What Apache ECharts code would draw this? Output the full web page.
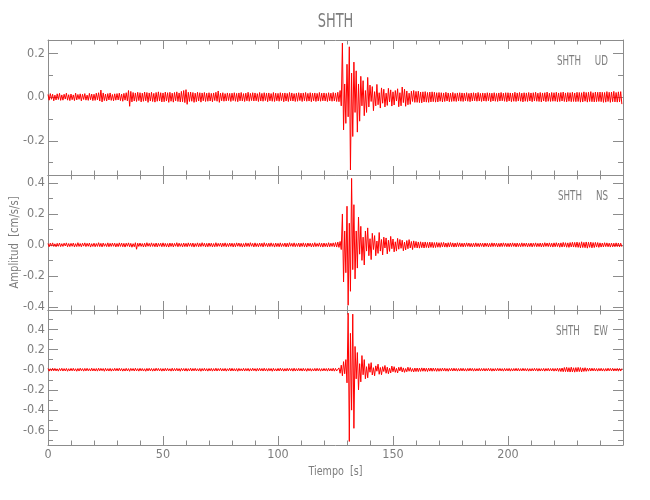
<!DOCTYPE html>
<html><head><meta charset="utf-8">
<script src="https://cdn.jsdelivr.net/npm/echarts@6/dist/echarts.min.js"></script>
<style>html,body{margin:0;padding:0;background:#fff}#c{width:650px;height:500px}</style>
</head><body><div id="c"></div>
<script>
// ---- text ----
const chartTitle = 'SHTH';
const station = 'SHTH';
const components = ['UD', 'NS', 'EW'];
const yName = 'Amplitud  [cm/s/s]';
const xName = 'Tiempo  [s]';

// ---- samples (one every 0.5 s, in units of 0.001 cm/s/s) ----
const sampleStep = 0.5;
const udMilli = [
12,-14,16,-10,13,-17,9,-13,15,-11,17,-15,10,-14,13,-9,18,-14,11,-16,
14,-12,10,-16,18,-13,12,-10,15,-17,13,-11,16,-14,9,-15,17,-12,14,-16,
13,-15,18,-13,20,-18,32,-22,19,-16,14,-18,16,-13,19,-15,12,-17,15,-14,
16,-13,18,-16,14,-19,17,-14,20,-17,30,-42,26,-22,21,-18,19,-20,22,-16,
20,-22,18,-19,23,-17,21,-24,19,-18,22,-20,17,-23,21,-19,24,-18,20,-22,
19,-21,23,-18,20,-24,22,-19,18,-23,21,-17,24,-20,19,-22,26,-21,30,-25,
34,-33,22,-20,23,-19,21,-24,18,-21,22,-18,20,-23,19,-17,21,-20,18,-19,
20,-18,17,-21,19,-16,22,-19,28,-24,18,-17,20,-19,16,-18,19,-16,17,-20,
18,-16,20,-19,17,-21,19,-17,21,-18,16,-20,18,-17,22,-19,17,-16,20,-18,
19,-17,16,-20,21,-18,17,-19,20,-16,18,-21,19,-17,16,-19,21,-20,18,-17,
17,-19,20,-16,18,-21,19,-18,17,-20,21,-17,19,-18,16,-20,18,-19,20,-16,
18,-20,19,-17,21,-19,17,-18,20,-21,18,-17,19,-20,17,-18,21,-19,18,-17,
19,-18,17,-20,20,-17,18,-19,21,-18,19,-20,22,-21,30,-40,247,-150,60,-120,
150,-90,230,-333,110,-180,160,-70,120,-160,60,-110,95,-40,75,-85,30,-70,90,-45,
55,-20,48,-62,25,-40,58,-35,20,-50,42,-28,36,-45,18,-38,40,-22,33,-41,
24,-36,30,-18,38,-44,20,-40,46,-25,36,-42,28,-35,18,-33,27,-20,30,-24,
26,-24,27,-25,23,-26,24,-22,25,-23,21,-24,23,-22,24,-21,22,-23,20,-22,
21,-19,20,-22,19,-20,22,-18,19,-21,18,-20,21,-19,17,-20,19,-18,20,-19,
19,-20,18,-17,20,-19,17,-21,19,-18,20,-17,18,-19,21,-18,17,-20,19,-18,
18,-19,20,-17,19,-21,18,-18,20,-19,17,-20,19,-18,21,-17,18,-19,20,-21,
20,-18,19,-21,18,-19,22,-20,19,-18,21,-19,18,-22,20,-19,19,-20,21,-18,
19,-21,20,-18,22,-19,18,-20,21,-22,19,-18,20,-21,23,-19,18,-20,21,-19,
20,-19,22,-21,19,-20,21,-18,23,-20,19,-22,21,-19,20,-21,22,-20,19,-21,
22,-20,21,-23,20,-22,24,-19,21,-23,22,-20,25,-21,20,-22,23,-21,22,-20,
23,-21,22,-24,21,-23,25,-20,22,-24,23,-21,26,-22,21,-23,24,-22,25,-32
];
const nsMilli = [
9,-12,11,-8,13,-10,7,-12,10,-9,12,-11,8,-10,11,-7,13,-12,9,-11,
10,-9,12,-13,8,-11,14,-10,9,-12,11,-8,13,-11,10,-9,12,-14,8,-10,
11,-12,9,-10,14,-11,10,-13,12,-9,8,-11,13,-12,10,-10,12,-9,11,-13,
9,-11,13,-10,12,-12,10,-14,11,-9,13,-12,10,-15,8,-12,14,-28,11,-10,
12,-10,9,-13,11,-12,14,-9,10,-11,13,-10,9,-12,12,-13,10,-9,11,-12,
13,-11,10,-12,9,-14,12,-10,11,-13,10,-9,14,-12,11,-10,9,-13,12,-11,
10,-12,13,-9,11,-11,12,-14,9,-10,13,-12,10,-11,14,-9,11,-13,10,-12,
12,-10,11,-13,9,-12,14,-11,10,-9,12,-13,11,-10,13,-12,9,-11,12,-10,
11,-13,10,-12,13,-9,12,-11,10,-14,9,-12,13,-10,11,-11,14,-9,10,-13,
13,-11,9,-12,12,-10,11,-13,14,-9,10,-12,11,-11,13,-10,9,-14,12,-11,
10,-12,13,-11,9,-10,12,-13,11,-12,14,-9,10,-11,13,-12,9,-10,12,-13,
11,-10,13,-12,10,-14,12,-9,11,-13,10,-12,14,-11,9,-10,13,-12,11,-14,
12,-11,10,-13,14,-12,11,-10,13,-12,15,-14,18,-16,22,-30,200,-240,90,-180,
250,-390,140,-300,430,-160,260,-220,90,-150,180,-60,120,-100,50,-130,90,-40,110,-70,
40,-95,75,-30,60,-70,25,-55,80,-40,35,-65,50,-20,45,-58,30,-42,55,-25,
38,-45,20,-40,42,-28,35,-22,30,-38,18,-33,28,-25,34,-20,22,-30,26,-18,
22,-20,19,-21,20,-18,17,-20,19,-17,16,-19,18,-16,17,-18,15,-17,16,-15,
14,-16,15,-13,16,-14,12,-15,14,-13,15,-12,13,-14,12,-13,14,-11,13,-12,
11,-13,12,-11,13,-10,12,-12,10,-13,11,-12,13,-11,10,-12,12,-10,11,-13,
12,-10,11,-13,10,-12,13,-11,12,-10,11,-13,10,-12,12,-11,13,-10,11,-12,
10,-12,12,-11,13,-10,11,-13,12,-11,10,-12,13,-11,11,-10,12,-13,10,-11,
12,-13,11,-10,13,-12,10,-11,12,-13,11,-12,14,-10,12,-11,13,-12,11,-14,
13,-12,14,-11,12,-15,13,-14,16,-12,14,-15,13,-16,15,-13,17,-14,16,-15,
18,-16,15,-19,20,-17,16,-18,19,-21,17,-16,18,-19,15,-17,16,-14,15,-16,
13,-14,12,-13,14,-11,13,-12,11,-14,12,-13,11,-12,13,-11,12,-13,11,-12
];
const ewMilli = [
12,-14,10,-13,15,-11,13,-12,9,-14,12,-10,14,-13,11,-12,13,-15,10,-12,
13,-11,14,-12,10,-15,12,-13,15,-10,11,-14,13,-12,14,-11,10,-13,15,-12,
11,-13,12,-14,15,-11,13,-10,12,-15,14,-12,11,-13,13,-14,10,-12,14,-11,
13,-12,15,-11,12,-14,10,-13,14,-12,11,-15,13,-10,12,-13,15,-12,11,-14,
14,-11,12,-13,10,-15,13,-12,14,-11,12,-14,11,-13,15,-10,13,-12,12,-14,
11,-13,14,-12,13,-11,10,-14,15,-13,12,-11,14,-12,11,-15,13,-10,12,-13,
13,-14,11,-12,15,-13,12,-11,14,-12,10,-13,13,-15,12,-11,14,-12,11,-14,
12,-11,13,-14,11,-12,15,-13,12,-10,14,-13,11,-12,13,-14,10,-11,15,-13,
14,-12,11,-13,12,-15,13,-11,10,-12,14,-13,12,-11,13,-14,11,-12,15,-10,
11,-14,13,-12,14,-11,12,-13,15,-12,11,-14,13,-11,12,-15,14,-12,10,-13,
13,-12,15,-11,12,-14,11,-13,14,-12,13,-10,12,-14,15,-13,11,-12,14,-11,
12,-13,14,-12,11,-15,13,-11,12,-14,10,-12,13,-13,14,-11,12,-14,11,-12,
13,-11,12,-14,14,-12,11,-13,15,-14,13,-12,-20,18,-35,45,-60,80,-40,100,
-130,560,-710,360,-400,550,-580,230,-90,170,-200,60,-120,140,-50,100,-90,30,-80,60,
-25,70,-52,20,-60,38,-15,55,-45,22,-50,30,-18,42,-35,25,-40,15,-32,36,
-20,30,-26,14,-32,24,-12,28,-22,18,-26,12,-20,25,-15,21,-18,12,-22,17,
-18,17,-19,16,-17,18,-15,17,-16,15,-18,16,-14,17,-15,16,-14,15,-16,14,
-15,13,-14,16,-13,15,-14,12,-15,13,-12,14,-13,15,-12,13,-14,12,-13,14,
-12,14,-13,11,-14,13,-12,15,-11,13,-14,12,-13,11,-12,14,-13,12,-11,13,
-13,12,-11,14,-12,13,-14,11,-13,12,-12,14,-11,13,-12,11,-14,13,-12,12,
-12,13,-14,11,-13,12,-11,14,-12,13,-13,11,-12,14,-11,12,-13,12,-14,11,
-13,12,-12,14,-11,13,-14,12,-13,11,-12,13,-14,12,-11,14,-13,12,-12,13,
-14,12,-13,15,-16,14,-18,17,-20,22,-19,24,-21,20,-23,25,-22,19,-24,21,
-20,23,-19,21,-22,18,-17,20,-16,15,-14,16,-13,15,-12,14,-13,12,-14,13,
-12,14,-13,11,-14,12,-13,15,-11,13,-12,14,-13,11,-12,13,-14,12,-13,12
];

// ---- axes: ranges, ticks and tick labels ----
const xRange = [0, 250];
const xMajorTicks = [0, 50, 100, 150, 200];
const xTickLabels = ['0', '50', '100', '150', '200'];
const xMinorTicks = [10,20,30,40,60,70,80,90,110,120,130,140,160,170,180,190,210,220,230,240];

const udRange = [-0.356, 0.261];
const udMajorTicks = [-0.2, 0, 0.2];
const udTickLabels = ['-0.2', '0.0', '0.2'];
const udMinorTicks = [-0.3, -0.1, 0.1];

const nsRange = [-0.421, 0.452];
const nsMajorTicks = [-0.4, -0.2, 0, 0.2, 0.4];
const nsTickLabels = ['-0.4', '-0.2', '0.0', '0.2', '0.4'];
const nsMinorTicks = [-0.3, -0.1, 0.1, 0.3];

const ewRange = [-0.745, 0.591];
const ewMajorTicks = [-0.6, -0.4, -0.2, 0, 0.2, 0.4];
const ewTickLabels = ['-0.6', '-0.4', '-0.2', '-0.0', '0.2', '0.4'];
const ewMinorTicks = [-0.7, -0.5, -0.3, -0.1, 0.1, 0.3, 0.5];

// ---- build ----
const FONT = "'Liberation Sans Narrow','DejaVu Sans Condensed',sans-serif";
const AXIS_COLOR = '#8c8c8c';
const TEXT_COLOR = '#7d7d7d';
const TRACE_COLOR = '#ff0000';
const GRID_LEFT = 48, GRID_WIDTH = 575, GRID_H = 135;
const gridTops = [40, 175, 310];

const traces = [udMilli, nsMilli, ewMilli];
const yRanges = [udRange, nsRange, ewRange];
const yMajors = [udMajorTicks, nsMajorTicks, ewMajorTicks];
const yLabels = [udTickLabels, nsTickLabels, ewTickLabels];
const yMinors = [udMinorTicks, nsMinorTicks, ewMinorTicks];

function labelFor(values, labels) {
  return v => {
    const k = values.findIndex(x => Math.abs(x - v) < 1e-9);
    return k >= 0 ? labels[k] : '';
  };
}
function makeAxis(gridIndex, position, range, ticks, len, showLine, labelVals, labels) {
  return {
    type: 'value', gridIndex, position, min: range[0], max: range[1],
    axisLine: { show: showLine, onZero: false, lineStyle: { color: AXIS_COLOR, width: 1 } },
    axisTick: { show: true, inside: true, length: len, customValues: ticks, lineStyle: { color: AXIS_COLOR, width: 1 } },
    axisLabel: labelVals ? {
      show: true, customValues: labelVals, formatter: labelFor(labelVals, labels),
      margin: 3, color: TEXT_COLOR, fontSize: 12.5, fontFamily: FONT
    } : { show: false },
    splitLine: { show: false }, minorTick: { show: false }, minorSplitLine: { show: false }
  };
}

const grids = [], xAxes = [], yAxes = [], series = [];
gridTops.forEach((top, g) => {
  grids.push({ left: GRID_LEFT, top, width: GRID_WIDTH, height: GRID_H, show: false });
  const xi = xAxes.length, yi = yAxes.length;
  const isLast = g === gridTops.length - 1;
  xAxes.push(makeAxis(g, 'bottom', xRange, xMajorTicks, 9, true, isLast ? xMajorTicks : null, xTickLabels));
  xAxes.push(makeAxis(g, 'bottom', xRange, xMinorTicks, 4.5, false, null));
  xAxes.push(makeAxis(g, 'top', xRange, xMajorTicks, 9, true, null));
  xAxes.push(makeAxis(g, 'top', xRange, xMinorTicks, 4.5, false, null));

  yAxes.push(makeAxis(g, 'left', yRanges[g], yMajors[g], 10, true, yMajors[g], yLabels[g]));
  yAxes.push(makeAxis(g, 'left', yRanges[g], yMinors[g], 5, false, null));
  yAxes.push(makeAxis(g, 'right', yRanges[g], yMajors[g], 10, true, null));
  yAxes.push(makeAxis(g, 'right', yRanges[g], yMinors[g], 5, false, null));

  series.push({
    type: 'line', xAxisIndex: xi, yAxisIndex: yi,
    data: traces[g].map((m, i) => [i * sampleStep, m / 1000]),
    showSymbol: false, symbol: 'none', clip: true,
    lineStyle: { color: TRACE_COLOR, width: 1 }, itemStyle: { color: TRACE_COLOR },
    animation: false, silent: true
  });
});

const plotBottom = gridTops[gridTops.length - 1] + GRID_H;
const graphics = [
  { type: 'text', x: GRID_LEFT + GRID_WIDTH / 2, y: 22, scaleX: 0.72, silent: true,
    style: { text: chartTitle, fill: TEXT_COLOR, font: '20px ' + FONT, textAlign: 'center', textVerticalAlign: 'middle' } },
  { type: 'text', x: GRID_LEFT + GRID_WIDTH / 2, y: 471.5, scaleX: 0.82, silent: true,
    style: { text: xName, fill: TEXT_COLOR, font: '13px ' + FONT, textAlign: 'center', textVerticalAlign: 'middle' } },
  { type: 'text', x: 15, y: (gridTops[0] + plotBottom) / 2, rotation: Math.PI / 2, scaleX: 0.86, silent: true,
    style: { text: yName, fill: TEXT_COLOR, font: '13px ' + FONT, textAlign: 'center', textVerticalAlign: 'middle' } }
];
components.forEach((c, g) => graphics.push({
  type: 'text', x: 608, y: gridTops[g] + 21, scaleX: 0.72, silent: true,
  style: { text: station + '     ' + c, fill: TEXT_COLOR, font: '13.5px ' + FONT, textAlign: 'right', textVerticalAlign: 'middle' }
}));

const chart = echarts.init(document.getElementById('c'), null, { renderer: 'canvas' });
chart.setOption({
  backgroundColor: '#ffffff',
  animation: false,
  grid: grids, xAxis: xAxes, yAxis: yAxes, series,
  graphic: graphics
});
</script>
</body></html>
